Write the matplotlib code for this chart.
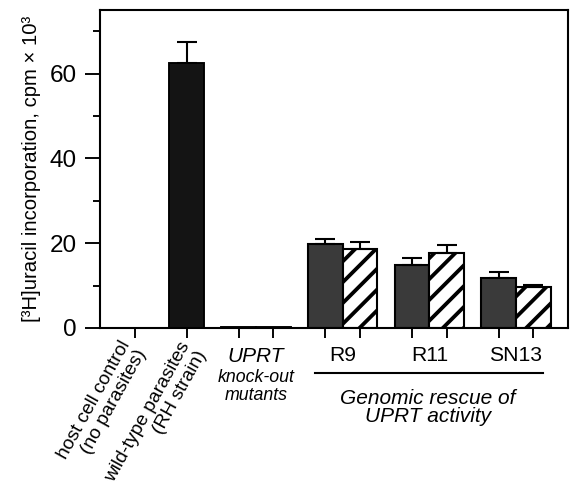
import numpy as np
import matplotlib.pyplot as plt
import matplotlib.transforms as mtransforms

plt.rcParams['font.family'] = ['Liberation Sans', 'DejaVu Sans']
plt.rcParams['hatch.linewidth'] = 2.2

# Werte (cpm x 10^3)
single_labels = ['host cell control\n(no parasites)', 'wild-type parasites\n(RH strain)']
single_values = [0.0, 62.5]
single_err = [0.0, 5.0]

knockout_values = [0.3, 0.3]

rescue_clones = ['R9', 'R11', 'SN13']
rescue_dark = [19.8, 14.8, 11.9]
rescue_dark_err = [1.1, 1.8, 1.3]
rescue_hatch = [18.7, 17.7, 9.7]
rescue_hatch_err = [1.6, 1.9, 0.4]

# Layout
x_single = [1.0, 2.5]
x_knockout = [4.0, 5.0]
x_dark = [6.5, 9.0, 11.5]
x_hatch = [7.5, 10.0, 12.5]
w = 1.0

fig = plt.figure(figsize=(571 / 125, 495 / 125), dpi=125)
ax = fig.add_axes([100 / 571, 1 - 328 / 495, 468 / 571, 318 / 495])

ax.bar(x_single, single_values, width=w, color='#141414', edgecolor='black', linewidth=1.1)
ax.bar(x_knockout, knockout_values, width=w, color='white', edgecolor='black', linewidth=1.1)
ax.bar(x_dark, rescue_dark, width=w, color='#3a3a3a', edgecolor='black', linewidth=1.2)
ax.bar(x_hatch, rescue_hatch, width=w, color='white', edgecolor='black', linewidth=1.2, hatch='//')

err_kw = dict(fmt='none', ecolor='black', elinewidth=1.2, capsize=5.5, capthick=1.2)
ax.errorbar(x_single[1:], single_values[1:], yerr=[[0], single_err[1:]], **err_kw)
ax.errorbar(x_dark, rescue_dark, yerr=[np.zeros(3), rescue_dark_err], **err_kw)
ax.errorbar(x_hatch, rescue_hatch, yerr=[np.zeros(3), rescue_hatch_err], **err_kw)

ax.set_xlim(0, 13.5)
ax.set_ylim(0, 75)
ax.set_yticks([0, 20, 40, 60])
ax.set_yticks([10, 30, 50, 70], minor=True)
ax.set_xticks(x_single + x_knockout + x_dark + x_hatch)
ax.set_xticklabels([])

for s in ax.spines.values():
    s.set_linewidth(1.2)
ax.tick_params(axis='y', which='major', length=8.5, width=1.1, pad=5.0, labelsize=14)
ax.tick_params(axis='y', which='minor', length=4, width=1.1)
ax.tick_params(axis='x', which='major', length=5.8, width=1.1, direction='out')

ax.set_ylabel('[³H]uracil incorporation, cpm × 10³', fontsize=11.7)
ax.yaxis.set_label_coords(-0.125, 0.5)

trans = mtransforms.blended_transform_factory(ax.transData, ax.transAxes)

# schraege Beschriftungen
ax.text(1.0, -0.058, single_labels[0], transform=trans, rotation=61, rotation_mode='anchor',
        ha='right', va='center', fontsize=11.0, multialignment='right', linespacing=1.08)
ax.text(2.72, -0.06, single_labels[1], transform=trans, rotation=61, rotation_mode='anchor',
        ha='right', va='center', fontsize=11.0, multialignment='right', linespacing=1.08)

ax.text(4.5, -0.091, 'UPRT', transform=trans, ha='center', va='center',
        fontsize=12, style='italic')
ax.text(4.5, -0.183, 'knock-out\nmutants', transform=trans, ha='center', va='center',
        fontsize=10.2, style='italic', linespacing=1.1)

for xd, xh, name in zip(x_dark, x_hatch, rescue_clones):
    ax.text((xd + xh) / 2, -0.088, name, transform=trans, ha='center', va='center', fontsize=12.2)

ax.plot([6.2, 12.77], [-0.1415, -0.1415], color='black', lw=1.2, transform=trans, clip_on=False)
ax.text(9.45, -0.25, 'Genomic rescue of\nUPRT activity', transform=trans, ha='center', va='center',
        fontsize=12, style='italic', linespacing=1.0)

fig.savefig('out.png', dpi=125)
